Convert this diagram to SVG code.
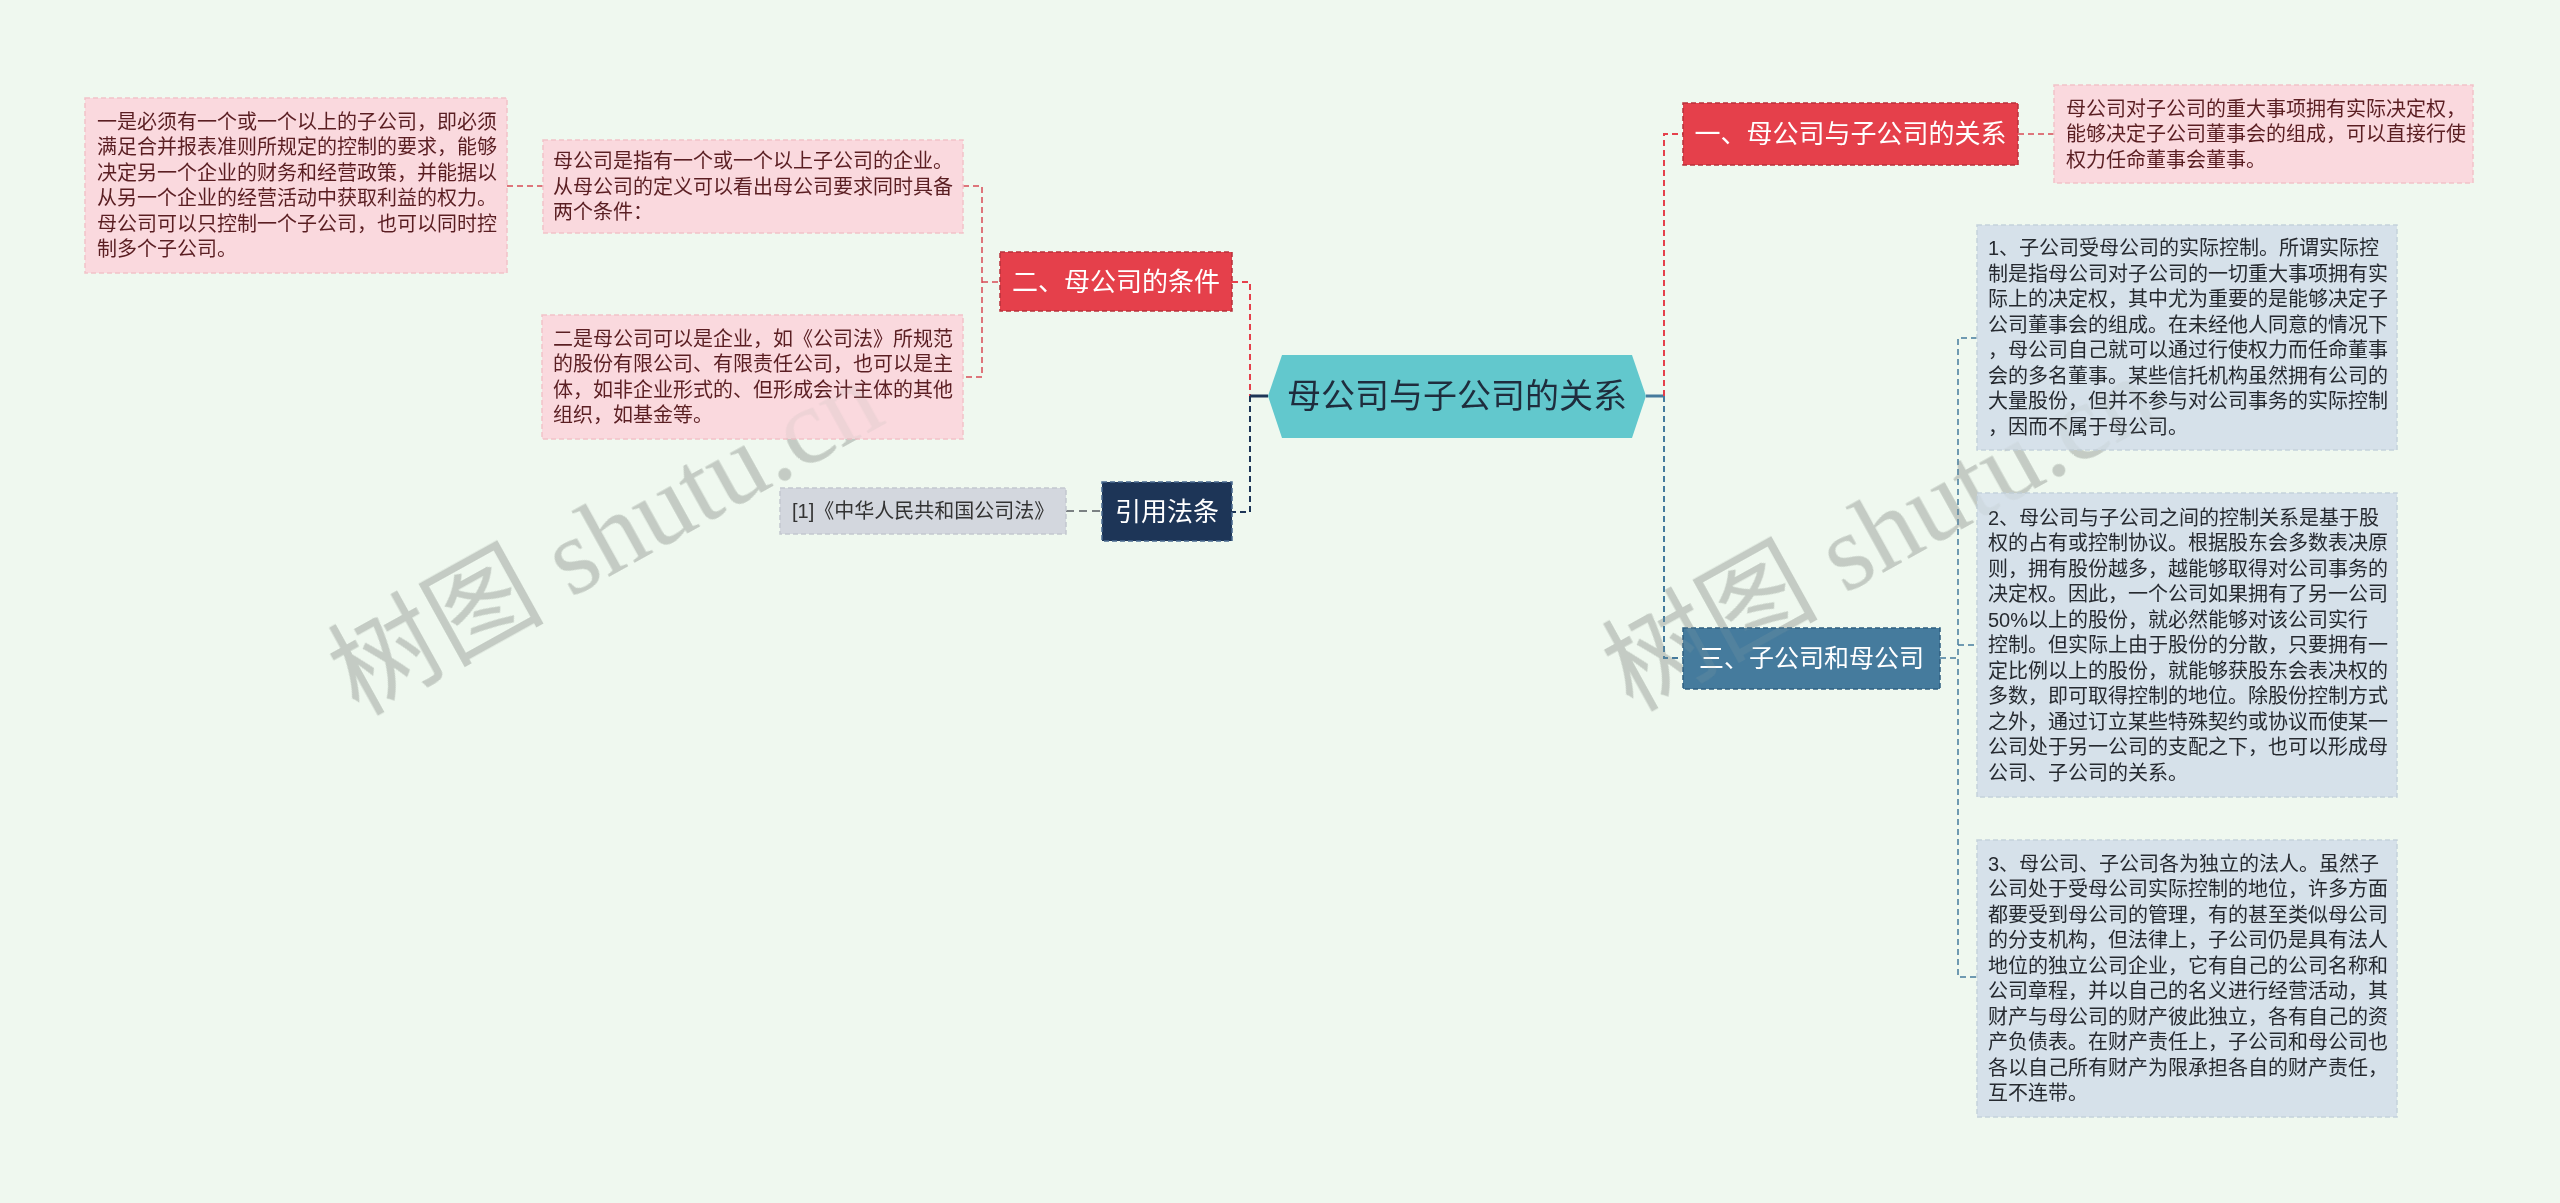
<svg xmlns="http://www.w3.org/2000/svg" xmlns:xlink="http://www.w3.org/1999/xlink" width="2560" height="1203" viewBox="0 0 2560 1203">
<style>
.txt{font-family:"Liberation Sans","Noto Sans CJK SC",sans-serif}
.pink{fill:#fad9de;stroke:#f2c2c9;stroke-width:1.5;stroke-dasharray:5 3}
.blue{fill:#d6e1ea;stroke:#c5d2dc;stroke-width:1.5;stroke-dasharray:5 3}
.pt{font-size:20px;fill:#5a1e22}
.bt{font-size:20px;fill:#262a30}
.red{fill:#e5404b;stroke:#b8303b;stroke-width:1.5;stroke-dasharray:5 3}
.nt{font-size:26px;fill:#ffffff;text-anchor:middle;dominant-baseline:central}
.c-red{stroke:#e5404b;stroke-width:2;stroke-dasharray:6 4;fill:none}
.c-red2{stroke:#d94a55;stroke-width:1.5;stroke-dasharray:6 4;fill:none}
.c-navy{stroke:#1d3557;stroke-width:2;stroke-dasharray:6 4;fill:none}
.c-steel{stroke:#457b9d;stroke-width:2;stroke-dasharray:6 4;fill:none}
.c-steel2{stroke:#457b9d;stroke-width:1.5;stroke-dasharray:6 4;fill:none}
.c-gray{stroke:#555a60;stroke-width:1.5;stroke-dasharray:8 5;fill:none}
.wm{font-family:"Liberation Serif","Noto Sans CJK SC",serif;font-size:108px;fill:#a9b0a9}
</style>
<defs>
<g id="wmarks">
<text class="wm" transform="translate(358,716) rotate(-29)">树图 shutu.cn</text>
<text class="wm" transform="translate(1632,712) rotate(-29)">树图 shutu.cn</text>
</g>
</defs>
<rect x="0" y="0" width="2560" height="1203" fill="#eff8ef"/>
<use id="watermark-under" xlink:href="#wmarks" href="#wmarks" opacity="0.55"/>
<g id="connectors">
<line class="c-red2" x1="507" y1="186" x2="543" y2="186"/>
<path class="c-red2" d="M963,186 H982 V377 H963"/>
<line class="c-red2" x1="982" y1="282" x2="1000" y2="282"/>
<path class="c-red" d="M1232,282 H1250 V396"/>
<path class="c-navy" d="M1250,396 V512 H1232"/>
<line x1="1268" y1="396" x2="1250" y2="396" stroke="#1d3557" stroke-width="3"/>
<line class="c-gray" x1="1066" y1="511" x2="1102" y2="511"/>
<line x1="1646" y1="396" x2="1664" y2="396" stroke="#457b9d" stroke-width="3"/>
<path class="c-red" d="M1664,396 V134 H1683"/>
<path class="c-steel" d="M1664,396 V658 H1683"/>
<line class="c-red2" x1="2018" y1="134" x2="2054" y2="134"/>
<path class="c-steel2" d="M1940,658 H1958"/>
<path class="c-steel2" d="M1977,338 H1958 V977 H1977"/>
<line class="c-steel2" x1="1958" y1="645" x2="1977" y2="645"/>
</g>
<g id="center">
<polygon points="1268,396 1282,355 1632,355 1646,396 1632,438 1282,438" fill="#62c8cd"/>
<text class="txt" x="1457" y="396" font-size="34" fill="#1f2d3d" text-anchor="middle" dominant-baseline="central">母公司与子公司的关系</text>
</g>
<g id="node-cond">
<rect class="red" x="1000" y="252" width="232" height="59"/>
<text class="txt nt" x="1116" y="282">二、母公司的条件</text>
</g>
<g id="node-def">
<rect class="pink" x="543" y="140" width="420" height="93"/>
<text class="txt pt" x="553" y="168"><tspan x="553">母公司是指有一个或一个以上子公司的企业。</tspan><tspan x="553" dy="25.5">从母公司的定义可以看出母公司要求同时具备</tspan><tspan x="553" dy="25.5">两个条件：</tspan></text>
</g>
<g id="node-cond1">
<rect class="pink" x="85" y="98" width="422" height="175"/>
<text class="txt pt" x="97" y="128.75"><tspan x="97">一是必须有一个或一个以上的子公司，即必须</tspan><tspan x="97" dy="25.5">满足合并报表准则所规定的控制的要求，能够</tspan><tspan x="97" dy="25.5">决定另一个企业的财务和经营政策，并能据以</tspan><tspan x="97" dy="25.5">从另一个企业的经营活动中获取利益的权力。</tspan><tspan x="97" dy="25.5">母公司可以只控制一个子公司，也可以同时控</tspan><tspan x="97" dy="25.5">制多个子公司。</tspan></text>
</g>
<g id="node-cond2">
<rect class="pink" x="542" y="315" width="421" height="124"/>
<text class="txt pt" x="553" y="345.75"><tspan x="553">二是母公司可以是企业，如《公司法》所规范</tspan><tspan x="553" dy="25.5">的股份有限公司、有限责任公司，也可以是主</tspan><tspan x="553" dy="25.5">体，如非企业形式的、但形成会计主体的其他</tspan><tspan x="553" dy="25.5">组织，如基金等。</tspan></text>
</g>
<g id="node-law">
<rect x="1102" y="482" width="130" height="59" fill="#1d3557" stroke="#4a6a90" stroke-width="1.5" stroke-dasharray="5 3"/>
<text class="txt nt" x="1167" y="512">引用法条</text>
</g>
<g id="node-law1">
<rect x="780" y="488" width="286" height="46" fill="#d3d7de" stroke="#c3c8d0" stroke-width="1.5" stroke-dasharray="5 3"/>
<text class="txt" x="792" y="511" font-size="20" fill="#333" dominant-baseline="central">[1]《中华人民共和国公司法》</text>
</g>
<g id="node-rel">
<rect class="red" x="1683" y="103" width="335" height="62"/>
<text class="txt nt" x="1850.5" y="134" font-size="25">一、母公司与子公司的关系</text>
</g>
<g id="node-rel1">
<rect class="pink" x="2054" y="85" width="419" height="98"/>
<text class="txt pt" x="2066" y="115.5"><tspan x="2066">母公司对子公司的重大事项拥有实际决定权，</tspan><tspan x="2066" dy="25.5">能够决定子公司董事会的组成，可以直接行使</tspan><tspan x="2066" dy="25.5">权力任命董事会董事。</tspan></text>
</g>
<g id="node-sub">
<rect x="1683" y="628" width="257" height="61" fill="#457b9d" stroke="#2f5f80" stroke-width="1.5" stroke-dasharray="5 3"/>
<text class="txt nt" x="1811.5" y="658" style="font-size:25px">三、子公司和母公司</text>
</g>
<g id="node-sub1">
<rect class="blue" x="1977" y="225" width="420" height="225"/>
<text class="txt bt" x="1988" y="255.25"><tspan x="1988">1、子公司受母公司的实际控制。所谓实际控</tspan><tspan x="1988" dy="25.5">制是指母公司对子公司的一切重大事项拥有实</tspan><tspan x="1988" dy="25.5">际上的决定权，其中尤为重要的是能够决定子</tspan><tspan x="1988" dy="25.5">公司董事会的组成。在未经他人同意的情况下</tspan><tspan x="1988" dy="25.5">，母公司自己就可以通过行使权力而任命董事</tspan><tspan x="1988" dy="25.5">会的多名董事。某些信托机构虽然拥有公司的</tspan><tspan x="1988" dy="25.5">大量股份，但并不参与对公司事务的实际控制</tspan><tspan x="1988" dy="25.5">，因而不属于母公司。</tspan></text>
</g>
<g id="node-sub2">
<rect class="blue" x="1977" y="493" width="420" height="304"/>
<text class="txt bt" x="1988" y="524.5"><tspan x="1988">2、母公司与子公司之间的控制关系是基于股</tspan><tspan x="1988" dy="25.5">权的占有或控制协议。根据股东会多数表决原</tspan><tspan x="1988" dy="25.5">则，拥有股份越多，越能够取得对公司事务的</tspan><tspan x="1988" dy="25.5">决定权。因此，一个公司如果拥有了另一公司</tspan><tspan x="1988" dy="25.5">50%以上的股份，就必然能够对该公司实行</tspan><tspan x="1988" dy="25.5">控制。但实际上由于股份的分散，只要拥有一</tspan><tspan x="1988" dy="25.5">定比例以上的股份，就能够获股东会表决权的</tspan><tspan x="1988" dy="25.5">多数，即可取得控制的地位。除股份控制方式</tspan><tspan x="1988" dy="25.5">之外，通过订立某些特殊契约或协议而使某一</tspan><tspan x="1988" dy="25.5">公司处于另一公司的支配之下，也可以形成母</tspan><tspan x="1988" dy="25.5">公司、子公司的关系。</tspan></text>
</g>
<g id="node-sub3">
<rect class="blue" x="1977" y="840" width="420" height="277"/>
<text class="txt bt" x="1988" y="870.75"><tspan x="1988">3、母公司、子公司各为独立的法人。虽然子</tspan><tspan x="1988" dy="25.5">公司处于受母公司实际控制的地位，许多方面</tspan><tspan x="1988" dy="25.5">都要受到母公司的管理，有的甚至类似母公司</tspan><tspan x="1988" dy="25.5">的分支机构，但法律上，子公司仍是具有法人</tspan><tspan x="1988" dy="25.5">地位的独立公司企业，它有自己的公司名称和</tspan><tspan x="1988" dy="25.5">公司章程，并以自己的名义进行经营活动，其</tspan><tspan x="1988" dy="25.5">财产与母公司的财产彼此独立，各有自己的资</tspan><tspan x="1988" dy="25.5">产负债表。在财产责任上，子公司和母公司也</tspan><tspan x="1988" dy="25.5">各以自己所有财产为限承担各自的财产责任，</tspan><tspan x="1988" dy="25.5">互不连带。</tspan></text>
</g>
<use id="watermark-over" xlink:href="#wmarks" href="#wmarks" opacity="0.14"/>
</svg>
